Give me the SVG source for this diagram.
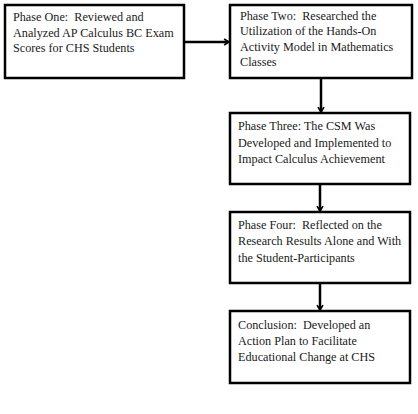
<svg xmlns="http://www.w3.org/2000/svg" width="418" height="414" viewBox="0 0 418 414">
<style>
.box{fill:#fff;stroke:#000;stroke-width:2.5}
.t{font-family:"Liberation Serif","Times New Roman",serif;font-size:12.2px;fill:#1a1a1a;white-space:pre}
.c{stroke:#000;stroke-width:2.5;fill:none}
</style>
<defs>
<marker id="ah" viewBox="0 0 10 10" refX="8.5" refY="5" markerWidth="3" markerHeight="3" orient="auto" markerUnits="strokeWidth">
<path d="M2,1 L8.5,5 L2,9" fill="none" stroke="#000" stroke-width="2.2"/>
</marker>
</defs>
<rect width="418" height="414" fill="#fff"/>
<g id="connectors">
<line class="c" x1="184" y1="42" x2="229" y2="42" marker-end="url(#ah)"/>
<line class="c" x1="321" y1="78" x2="321" y2="112" marker-end="url(#ah)"/>
<line class="c" x1="320" y1="184" x2="320" y2="211" marker-end="url(#ah)"/>
<line class="c" x1="320" y1="283" x2="320" y2="310" marker-end="url(#ah)"/>
</g>
<g id="phase1">
<rect class="box" x="5" y="5" width="179" height="73"/>
<text class="t" x="13" y="21">Phase One:  Reviewed and</text>
<text class="t" x="13" y="36.5">Analyzed AP Calculus BC Exam</text>
<text class="t" x="13" y="52">Scores for CHS Students</text>
</g>
<g id="phase2">
<rect class="box" x="230" y="5" width="182" height="73"/>
<text class="t" x="240" y="19.5">Phase Two:  Researched the</text>
<text class="t" x="240" y="35">Utilization of the Hands-On</text>
<text class="t" x="240" y="50.7">Activity Model in Mathematics</text>
<text class="t" x="240" y="66.3">Classes</text>
</g>
<g id="phase3">
<rect class="box" x="230" y="113" width="180" height="71"/>
<text class="t" x="238" y="130">Phase Three: The CSM Was</text>
<text class="t" x="238" y="146.5">Developed and Implemented to</text>
<text class="t" x="238" y="162.5">Impact Calculus Achievement</text>
</g>
<g id="phase4">
<rect class="box" x="230" y="212" width="180" height="71"/>
<text class="t" x="238" y="229.3">Phase Four:  Reflected on the</text>
<text class="t" x="238" y="245.3">Research Results Alone and With</text>
<text class="t" x="238" y="261.5">the Student-Participants</text>
</g>
<g id="conclusion">
<rect class="box" x="230" y="311" width="180" height="72"/>
<text class="t" x="238" y="328.7">Conclusion:  Developed an</text>
<text class="t" x="238" y="344.5">Action Plan to Facilitate</text>
<text class="t" x="238" y="360.7">Educational Change at CHS</text>
</g>
</svg>
